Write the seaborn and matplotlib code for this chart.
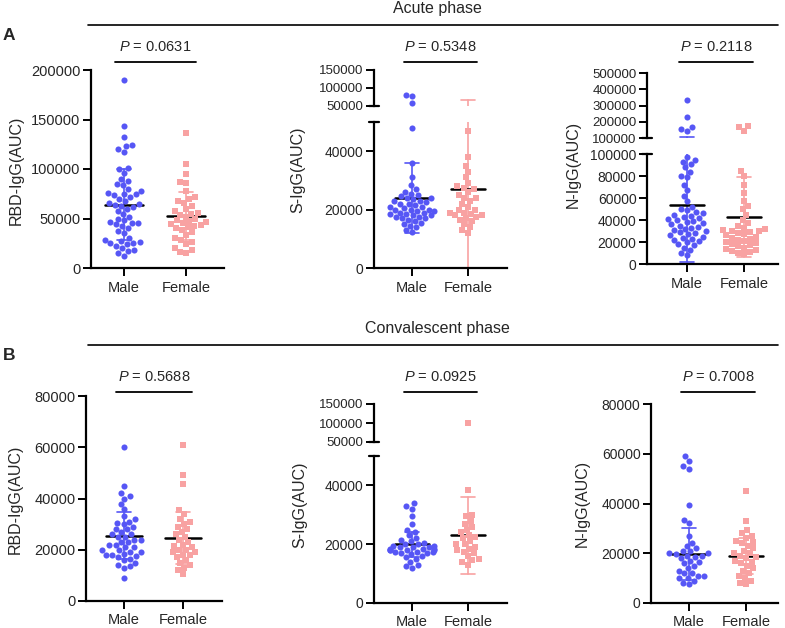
import numpy as np
import pandas as pd
import matplotlib
matplotlib.use("Agg")
import matplotlib.pyplot as plt
import matplotlib.transforms as mtransforms
from matplotlib.lines import Line2D
import seaborn as sns

# ---- data (AUC values) ----
acute_rbd_male = [190000, 143000, 132000, 124000, 123000, 120000, 117000, 101000, 100000, 96000,
                  90000, 88000, 85000, 84000, 80000, 78000, 76000, 75000, 75000, 74000, 72000,
                  70000, 68000, 66000, 65000, 64000, 63000, 62000, 60000, 58000, 55000, 52000,
                  50000, 48000, 46000, 45000, 45000, 44000, 42000, 40000, 37000, 35000, 30000,
                  28000, 27000, 26000, 25000, 25000, 24000, 22000, 20000, 18000, 17000, 15000, 12000]
acute_rbd_female = [136000, 105000, 95000, 87000, 86000, 78000, 72000, 70000, 68000, 66000, 63000,
                    60000, 58000, 56000, 55000, 54000, 52000, 50000, 48000, 47000, 46000, 45000,
                    44000, 43000, 42000, 41000, 40000, 38000, 36000, 33000, 30000, 28000, 26000,
                    24000, 20000, 18000, 16000, 15000]
acute_s_male = [80000, 77000, 57000, 48000, 36000, 31000, 28500, 27000, 26000, 25500, 25000, 24500,
                24000, 24000, 23500, 23000, 23000, 22500, 22000, 22000, 21500, 21000, 21000, 20500,
                20000, 20000, 20000, 19500, 19500, 19000, 19000, 18500, 18500, 18000, 18000, 17500,
                17500, 17000, 17000, 16500, 16000, 15500, 15000, 14500, 14000, 13000, 12500]
acute_s_female = [47000, 38000, 35000, 33000, 31000, 29000, 28000, 27500, 27000, 26000, 25000,
                  24000, 24000, 23000, 22000, 21000, 20000, 20000, 19000, 19000, 18500, 18000,
                  18000, 17500, 17000, 16500, 16000, 15000, 14000, 13000, 12000]
acute_n_male = [335000, 230000, 165000, 158000, 145000, 97000, 95000, 93000, 91000, 88000, 84000,
                80000, 79000, 72000, 67000, 62000, 57000, 52000, 50000, 49000, 47000, 46000, 45000,
                44000, 43000, 42000, 41000, 40000, 39000, 38000, 37000, 36000, 35000, 34000, 33000,
                32000, 31000, 30000, 29000, 28000, 27000, 26000, 25000, 24000, 23000, 22000, 21000,
                20000, 18000, 17000, 15000, 13000, 10000, 8000]
acute_n_female = [175000, 168000, 145000, 85000, 80000, 72000, 65000, 57000, 53000, 50000, 45000,
                  40000, 37000, 35000, 33000, 32000, 31000, 30000, 30000, 29000, 28000, 27000,
                  26000, 25000, 24000, 23000, 22000, 21000, 20000, 19000, 18000, 17000, 16000,
                  15000, 14000, 13000, 12000, 11000, 10000, 9000]
conv_rbd_male = [60000, 45000, 42000, 41000, 40000, 38000, 36000, 33000, 32000, 31000, 30500, 30000,
                 29000, 28000, 28000, 27000, 26000, 26000, 25000, 25000, 24000, 24000, 23000, 23000,
                 22000, 22000, 21000, 21000, 20000, 20000, 19000, 19000, 18500, 18000, 18000, 17500,
                 17000, 16500, 16000, 15000, 14000, 13500, 13000, 9000]
conv_rbd_female = [61000, 49000, 45500, 35500, 34000, 32000, 31000, 30000, 29000, 28000, 27000,
                   26000, 25000, 24000, 23000, 22000, 21500, 21000, 20000, 20000, 19000, 19000,
                   18000, 18000, 17000, 16000, 15000, 14000, 13000, 12000, 10500]
conv_s_male = [34000, 33000, 32000, 29500, 27000, 25000, 24000, 23000, 22000, 21500, 21000, 20500,
               20000, 20000, 19500, 19500, 19000, 19000, 19000, 18500, 18500, 18500, 18000, 18000,
               18000, 18000, 17500, 17500, 17500, 17000, 17000, 16500, 16000, 15500, 15000, 14000,
               13000, 12500, 12000]
conv_s_female = [100000, 38500, 30000, 29500, 28000, 27000, 26000, 25000, 24000, 23000, 22500,
                 22000, 21000, 20000, 20000, 19000, 18500, 18000, 17500, 17000, 16000, 15000,
                 14500, 14000, 13000]
conv_n_male = [59000, 57000, 55000, 54000, 39500, 33500, 32000, 27000, 24000, 23000, 22000, 21000,
               21000, 20000, 20000, 19500, 19000, 19000, 18500, 18000, 17000, 16500, 16000, 15000,
               14000, 13000, 12000, 12000, 11000, 11000, 10000, 10000, 9000, 8000, 7500]
conv_n_female = [45000, 33000, 29500, 28000, 27000, 26000, 25000, 24500, 24000, 23000, 22000,
                 21000, 20000, 20000, 19000, 18500, 18000, 17000, 16500, 16000, 15000, 14000,
                 13000, 12000, 11000, 10000, 9000, 8000, 7500]

# mean and SD as drawn (male, female)
acute_rbd_mean, acute_rbd_sd = [64000, 52500], [36000, 24000]
acute_s_mean, acute_s_sd = [24000, 27000], [12000, 39000]
acute_n_mean, acute_n_sd = [54000, 42500], [52000, 36500]
conv_rbd_mean, conv_rbd_sd = [25500, 24500], [9200, 10200]
conv_s_mean, conv_s_sd = [20000, 23000], [4300, 13000]
conv_n_mean, conv_n_sd = [19600, 19000], [10500, 7200]

p_values = ["0.0631", "0.5348", "0.2118", "0.5688", "0.0925", "0.7008"]
y_labels = ["RBD-IgG(AUC)", "S-IgG(AUC)", "N-IgG(AUC)", "RBD-IgG(AUC)", "S-IgG(AUC)", "N-IgG(AUC)"]
groups = ["Male", "Female"]

BLUE = "#5656f5"
PINK = "#f8a2a2"

sns.set_style("ticks")
plt.rcParams["font.family"] = ["Liberation Sans", "DejaVu Sans"]
plt.rcParams["mathtext.fontset"] = "custom"
plt.rcParams["mathtext.rm"] = "Liberation Sans"
plt.rcParams["mathtext.it"] = "Liberation Sans:italic"

W, H = 785, 628
fig = plt.figure(figsize=(W / 100, H / 100), dpi=100)


def rect(l, t, r, b):
    return [l / W, 1 - b / H, (r - l) / W, (b - t) / H]


def long_df(male, female):
    return pd.DataFrame({"sex": ["Male"] * len(male) + ["Female"] * len(female),
                         "value": male + female})


panels = [
    dict(male=acute_rbd_male, female=acute_rbd_female, mean=acute_rbd_mean, sd=acute_rbd_sd,
         x=(91, 224, 124, 186), low=(70, 268, 0, 200000, range(0, 200001, 50000)), up=None,
         fs=10.5, lab=(16, 170), prow=(47, 62)),
    dict(male=acute_s_male, female=acute_s_female, mean=acute_s_mean, sd=acute_s_sd,
         x=(374, 507, 412, 468), low=(122, 268, 0, 50000, [0, 20000, 40000]),
         up=(70, 106, 50000, 150000, [50000, 100000, 150000]),
         fs=10, lab=(298, 170), prow=(47, 62)),
    dict(male=acute_n_male, female=acute_n_female, mean=acute_n_mean, sd=acute_n_sd,
         x=(647, 778, 687, 744), low=(154, 264, 0, 100000, range(0, 100001, 20000)),
         up=(73, 138, 100000, 500000, range(100000, 500001, 100000)),
         fs=10, lab=(573, 164), prow=(47, 62)),
    dict(male=conv_rbd_male, female=conv_rbd_female, mean=conv_rbd_mean, sd=conv_rbd_sd,
         x=(86, 222, 124, 183), low=(396, 601, 0, 80000, range(0, 80001, 20000)), up=None,
         fs=10.5, lab=(15, 499), prow=(377, 392)),
    dict(male=conv_s_male, female=conv_s_female, mean=conv_s_mean, sd=conv_s_sd,
         x=(374, 507, 412, 468), low=(456, 603, 0, 50000, [0, 20000, 40000]),
         up=(404, 442, 50000, 150000, [50000, 100000, 150000]),
         fs=10, lab=(300, 505), prow=(377, 392)),
    dict(male=conv_n_male, female=conv_n_female, mean=conv_n_mean, sd=conv_n_sd,
         x=(651, 778, 689, 746), low=(404, 603, 0, 80000, range(0, 80001, 20000)), up=None,
         fs=10, lab=(582, 503), prow=(377, 392)),
]


def style_axis(ax, ticks, fs):
    for s in ["top", "right"]:
        ax.spines[s].set_visible(False)
    for s in ["left", "bottom"]:
        ax.spines[s].set_linewidth(1.6)
        ax.spines[s].set_color("black")
    ax.set_yticks(list(ticks))
    ax.set_yticklabels([str(int(t)) for t in ticks], fontsize=fs)
    ax.tick_params(axis="both", length=6, width=1.4, color="black", pad=1.5)
    ax.tick_params(axis="x", labelsize=10.5, pad=3)
    ax.set_xlabel("")
    ax.set_ylabel("")


def fill_axis(ax, spec, ylo, yhi, xlim):
    # mean line and SD error bars
    for i, c in enumerate([BLUE, PINK]):
        m, s = spec["mean"][i], spec["sd"][i]
        lo, hi = max(0, m - s), m + s
        ax.plot([i, i], [lo, hi], color=c, lw=1.2, zorder=1)
        ax.plot([i - 0.12, i + 0.12], [hi, hi], color=c, lw=1.2, zorder=1)
        ax.plot([i - 0.12, i + 0.12], [lo, lo], color=c, lw=1.2, zorder=1)
        ax.plot([i - 0.3, i + 0.3], [m, m], color="black", lw=1.8, zorder=1)
    for grp, vals, c, mk in [("Male", spec["male"], BLUE, "o"), ("Female", spec["female"], PINK, "s")]:
        sub = [v for v in vals if ylo < v <= yhi or (ylo == 0 and v == 0)]
        if sub:
            sns.swarmplot(data=long_df(sub, []) if grp == "Male" else long_df([], sub),
                          x="sex", y="value", order=groups, color=c, marker=mk,
                          size=4.4, linewidth=0, ax=ax, zorder=3, warn_thresh=1)
    ax.set_xlim(*xlim)
    ax.set_ylim(ylo, yhi)


for k, spec in enumerate(panels):
    left, right, xm, xf = spec["x"]
    sp = xf - xm
    xlim = ((left - xm) / sp, (right - xm) / sp)
    t, b, ylo, yhi, ticks = spec["low"]
    ax = fig.add_axes(rect(left, t, right, b))
    fill_axis(ax, spec, ylo, yhi, xlim)
    style_axis(ax, ticks, spec["fs"])
    ax.set_xticks([0, 1])
    ax.set_xticklabels(groups)
    top_ax = ax
    if spec["up"] is not None:
        ax.plot([-0.035, 0.035], [1, 1], transform=ax.transAxes, color="black",
                lw=1.6, clip_on=False)
        ut, ub, uylo, uyhi, uticks = spec["up"]
        uax = fig.add_axes(rect(left, ut, right, ub))
        fill_axis(uax, spec, uylo, uyhi, xlim)
        style_axis(uax, uticks, spec["fs"] - 0.5)
        uax.spines["bottom"].set_visible(False)
        uax.set_xticks([])
        uax.plot([-0.035, 0.035], [0, 0], transform=uax.transAxes, color="black",
                 lw=1.6, clip_on=False)
        top_ax = uax

    # P value bracket
    ty, by = spec["prow"]
    tr = mtransforms.blended_transform_factory(top_ax.transData, fig.transFigure)
    top_ax.plot([-0.14, 1.16], [1 - by / H] * 2, transform=tr, color="black", lw=1.3,
                clip_on=False)
    top_ax.text(0.51, 1 - ty / H, r"$\mathit{P}$ = " + p_values[k], transform=tr,
                ha="center", va="center", fontsize=10.5)

    lx, ly = spec["lab"]
    fig.text(lx / W, 1 - ly / H, y_labels[k], rotation=90, ha="center", va="center",
             fontsize=11.5)

# section headers
for label, ty, ly, letter, lety in [("Acute phase", 8, 25, "A", 35),
                                     ("Convalescent phase", 328, 345, "B", 355)]:
    fig.text(437 / W, 1 - ty / H, label, ha="center", va="center", fontsize=11.5)
    fig.add_artist(Line2D([88 / W, 778 / W], [1 - ly / H] * 2, transform=fig.transFigure,
                          color="black", lw=1.2))
    fig.text(3 / W, 1 - lety / H, letter, ha="left", va="center", fontsize=12.5,
             fontweight="bold")

fig.savefig("out.png", dpi=100)
